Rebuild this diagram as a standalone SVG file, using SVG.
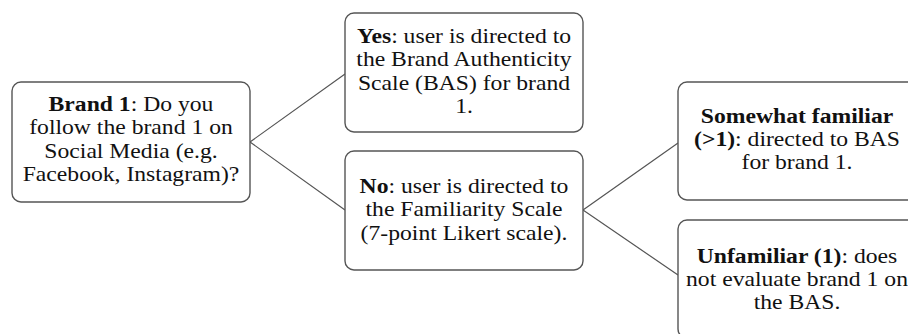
<svg xmlns="http://www.w3.org/2000/svg" width="908" height="334" viewBox="0 0 908 334">
<style>
.box{fill:#fff;stroke:#555;stroke-width:1.4}
.t{font-family:"Liberation Serif","Times New Roman",serif;font-size:21.5px;fill:#111;text-anchor:middle}
.b{font-weight:bold}
.c{stroke:#555;stroke-width:1.2;fill:none}
</style>
<rect width="908" height="334" fill="#fff"/>
<g id="connectors">
<polyline class="c" points="345,74 250,142 345,210"/>
<polyline class="c" points="678,143 583,210 678,275"/>
</g>
<g id="q1">
<rect class="box" x="12" y="82" width="238" height="120" rx="9"/>
<text class="t" transform="translate(131 0) scale(1.1 1)"><tspan x="0" y="111"><tspan class="b">Brand 1</tspan>: Do you</tspan><tspan x="0" y="134.5">follow the brand 1 on</tspan><tspan x="0" y="158">Social Media (e.g.</tspan><tspan x="0" y="181.5">Facebook, Instagram)?</tspan></text>
</g>
<g id="yes">
<rect class="box" x="345" y="13" width="238" height="119" rx="9"/>
<text class="t" transform="translate(464 0) scale(1.1 1)"><tspan x="0" y="43"><tspan class="b">Yes</tspan>: user is directed to</tspan><tspan x="0" y="66.5">the Brand Authenticity</tspan><tspan x="0" y="90">Scale (BAS) for brand</tspan><tspan x="0" y="113.5">1.</tspan></text>
</g>
<g id="no">
<rect class="box" x="345" y="151" width="238" height="119" rx="9"/>
<text class="t" transform="translate(464 0) scale(1.1 1)"><tspan x="0" y="193"><tspan class="b">No</tspan>: user is directed to</tspan><tspan x="0" y="216.5">the Familiarity Scale</tspan><tspan x="0" y="240">(7-point Likert scale).</tspan></text>
</g>
<g id="somewhat">
<rect class="box" x="678" y="82" width="238" height="118" rx="9"/>
<text class="t" transform="translate(797 0) scale(1.1 1)"><tspan x="0" y="123" class="b">Somewhat familiar</tspan><tspan x="0" y="146"><tspan class="b">(&gt;1)</tspan>: directed to BAS</tspan><tspan x="0" y="169">for brand 1.</tspan></text>
</g>
<g id="unfamiliar">
<rect class="box" x="678" y="220" width="238" height="118" rx="9"/>
<text class="t" transform="translate(797 0) scale(1.1 1)"><tspan x="0" y="263"><tspan class="b">Unfamiliar (1)</tspan>: does</tspan><tspan x="0" y="286">not evaluate brand 1 on</tspan><tspan x="0" y="309">the BAS.</tspan></text>
</g>
</svg>
